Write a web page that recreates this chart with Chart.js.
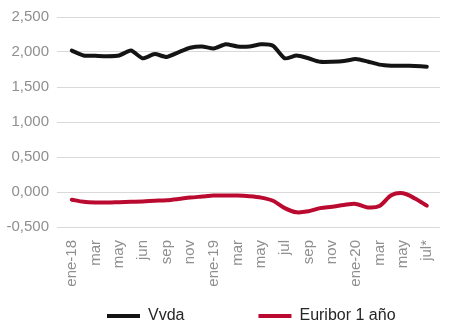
<!DOCTYPE html>
<html>
<head>
<meta charset="utf-8">
<script src="https://cdn.jsdelivr.net/npm/chart.js@4"></script>
<style>
  body { margin: 0; background: #fff; }
  #wrap { width: 450px; height: 331px; }
</style>
</head>
<body>
<div id="wrap"><canvas id="chart"></canvas></div>
<script>
// month labels, only every second month is shown on the axis
const months = ['ene-18','','mar','','may','','jun','','sep','','nov','',
  'ene-19','','mar','','may','','jul','','sep','','nov','',
  'ene-20','','mar','','may','','jul*'];

const vvda = [2.02,1.95,1.945,1.94,1.95,2.02,1.91,1.97,1.93,1.995,2.06,2.08,2.05,2.11,2.08,2.08,
  2.11,2.09,1.91,1.95,1.91,1.86,1.86,1.87,1.90,1.865,1.82,1.805,1.805,1.80,1.79];

const euribor = [-0.11,-0.14,-0.15,-0.15,-0.145,-0.14,-0.135,-0.125,-0.117,-0.10,-0.08,-0.065,-0.05,-0.05,-0.05,-0.06,
  -0.08,-0.125,-0.23,-0.29,-0.275,-0.23,-0.21,-0.185,-0.17,-0.22,-0.20,-0.046,-0.018,-0.093,-0.195];

const seriesNames = ['Vvda', 'Euribor 1 año'];
const yTicks = [-0.5, 0, 0.5, 1, 1.5, 2, 2.5];

Chart.defaults.font.family = '"Liberation Sans", Arial, sans-serif';

function toPoints(arr) {
  return arr.map((v, i) => ({ x: i, y: v }));
}

// legend sits lower and further right than chart.js puts it;
// grow the box upwards so the items are not clipped
const legendShift = {
  id: 'legendShift',
  afterLayout(chart) {
    const lg = chart.legend;
    lg.left += 33; lg.right += 33;
    lg.top -= 57; lg.height += 57;
  }
};

const ctx = document.getElementById('chart').getContext('2d');
new Chart(ctx, {
  type: 'line',
  data: {
    datasets: [
      {
        label: seriesNames[0],
        data: toPoints(vvda),
        borderColor: '#141414',
        backgroundColor: '#141414',
        borderWidth: 4,
        borderCapStyle: 'round',
        pointRadius: 0,
        tension: 0.2
      },
      {
        label: seriesNames[1],
        data: toPoints(euribor),
        borderColor: '#bb0a30',
        backgroundColor: '#bb0a30',
        borderWidth: 4,
        borderCapStyle: 'round',
        pointRadius: 0,
        tension: 0.3
      }
    ]
  },
  options: {
    responsive: true,
    maintainAspectRatio: false,
    animation: false,
    layout: { padding: { left: 0, right: 6, top: 12, bottom: 0 } },
    plugins: {
      tooltip: { enabled: false },
      legend: {
        position: 'bottom',
        align: 'start',
        maxHeight: 40,
        labels: {
          usePointStyle: true,
          pointStyle: 'line',
          pointStyleWidth: 33,
          padding: 74,
          color: '#262626',
          font: { size: 16 }
        }
      }
    },
    scales: {
      x: {
        type: 'linear',
        min: -1.25,
        max: 31.1,
        grid: { display: false },
        border: { display: false },
        afterBuildTicks: (scale) => {
          scale.ticks = months.map((m, i) => ({ value: i })).filter(t => months[t.value] !== '');
        },
        afterFit: (scale) => { scale.height = 64; },
        ticks: {
          autoSkip: false,
          minRotation: 90,
          maxRotation: 90,
          padding: 5,
          color: '#8f8f8f',
          font: { size: 15 },
          callback: (value) => months[value]
        }
      },
      y: {
        min: -0.5,
        max: 2.5,
        afterBuildTicks: (scale) => {
          scale.ticks = yTicks.map(v => ({ value: v }));
        },
        afterFit: (scale) => { scale.width = 57; },
        grid: { color: '#d9d9d9', lineWidth: 1, drawTicks: false },
        border: { display: false },
        ticks: {
          padding: 8,
          color: '#8f8f8f',
          font: { size: 15 },
          callback: (value) => value.toFixed(3).replace('.', ',')
        }
      }
    }
  },
  plugins: [legendShift]
});
</script>
</body>
</html>
